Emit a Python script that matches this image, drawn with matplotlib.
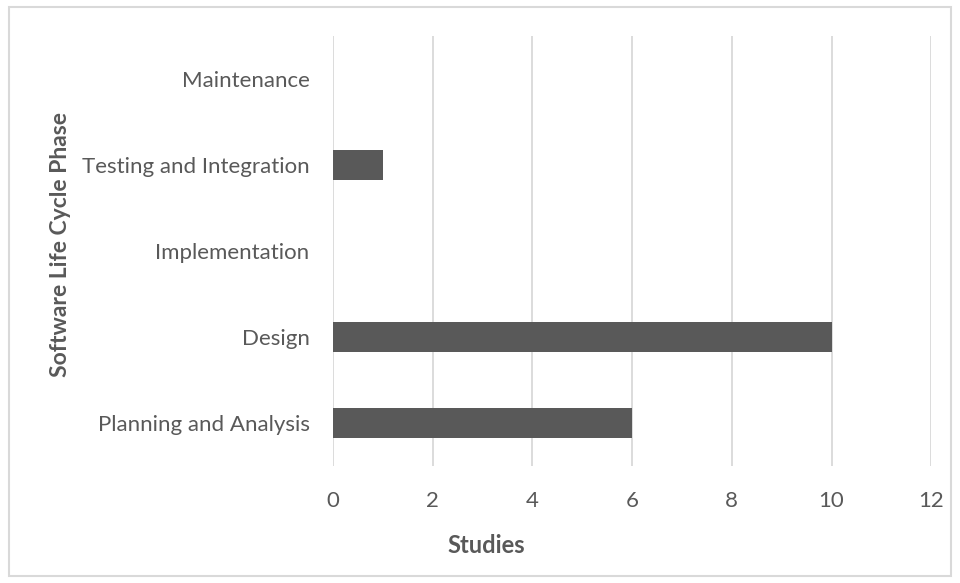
import matplotlib.pyplot as plt
from matplotlib.patches import Rectangle

# Data
phases = ['Planning and Analysis', 'Design', 'Implementation',
          'Testing and Integration', 'Maintenance']
studies = [6, 10, 0, 1, 0]
xticks = [0, 2, 4, 6, 8, 10, 12]

plt.rcParams['font.family'] = ['Lato', 'DejaVu Sans']
text_col = '#595959'
grid_col = '#d9d9d9'

fig = plt.figure(figsize=(9.6, 5.83), dpi=100)
ax = fig.add_axes([0.347, 0.2, 0.623, 0.738])

ax.barh(phases, studies, height=0.35, color='#595959', linewidth=0, zorder=3)

ax.set_xlim(0, 12)
ax.set_ylim(-0.5, len(phases) - 0.5)
ax.set_xticks(xticks)
ax.grid(axis='x', color=grid_col, linewidth=1.3, zorder=0)
for s in ax.spines.values():
    s.set_visible(False)
ax.tick_params(axis='both', length=0, labelsize=16, colors=text_col)
ax.tick_params(axis='x', pad=18)
ax.tick_params(axis='y', pad=17)

fig.text(0.507, 0.065, 'Studies', ha='center', va='center',
         fontsize=17, fontweight='bold', color=text_col)
fig.text(0.063, 0.58, 'Software Life Cycle Phase', ha='center', va='center',
         rotation=90, fontsize=16.5, fontweight='bold', color=text_col)

# chart border
fig.patches.append(Rectangle((0.009, 0.012), 0.982, 0.976,
                             transform=fig.transFigure, fill=False,
                             edgecolor=grid_col, linewidth=1.5))

fig.savefig('out.png', dpi=100)
